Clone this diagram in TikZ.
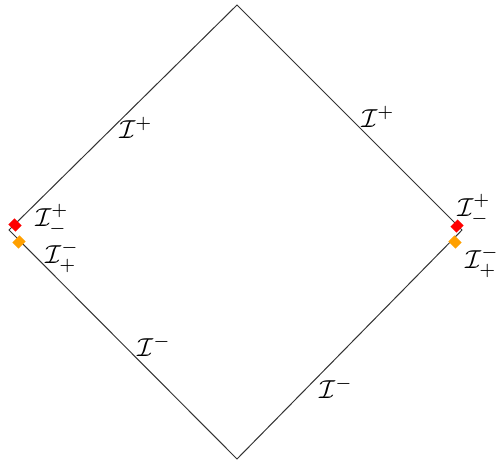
\documentclass[tikz,border=0pt]{standalone}
\begin{document}
\begin{tikzpicture}[x=1pt,y=-1pt,
  edge/.style={draw=black!80, line width=1pt},
  lab/.style={inner sep=0pt, scale=2.6, transform shape},
  redmk/.style={fill=red, inner sep=0pt, minimum width=10pt, minimum height=8.5pt, rotate=-45},
  orgmk/.style={fill={rgb,255:red,255;green,160;blue,0}, inner sep=0pt, minimum width=10pt, minimum height=8.5pt, rotate=45}]
\useasboundingbox (0,0) rectangle (500,463);
\coordinate (T) at (237,5);
\coordinate (L) at (9,230);
\coordinate (R) at (462,230);
\coordinate (B) at (237,459);
\draw[edge] (T) -- (R) -- (B) -- (L) -- cycle;
\node[redmk] (lr) at (15,225) {};
\node[orgmk] (lo) at (19,242) {};
\node[redmk, rotate=90] (rr) at (457,226) {};
\node[orgmk, rotate=-90] (ro) at (455,242) {};
\node[lab] (a) at (136,128) {$\mathcal{I}^+$};
\node[lab] (b) at (378,117) {$\mathcal{I}^+$};
\node[lab] (c) at (154,346) {$\mathcal{I}^-$};
\node[lab] (d) at (336,388) {$\mathcal{I}^-$};
\node[lab] (e) at (52,220) {$\mathcal{I}^+_-$};
\node[lab] (f) at (62,257) {$\mathcal{I}^-_+$};
\node[lab] (g) at (474,210) {$\mathcal{I}^+_-$};
\node[lab] (h) at (482,262) {$\mathcal{I}^-_+$};
\end{tikzpicture}
\end{document}
